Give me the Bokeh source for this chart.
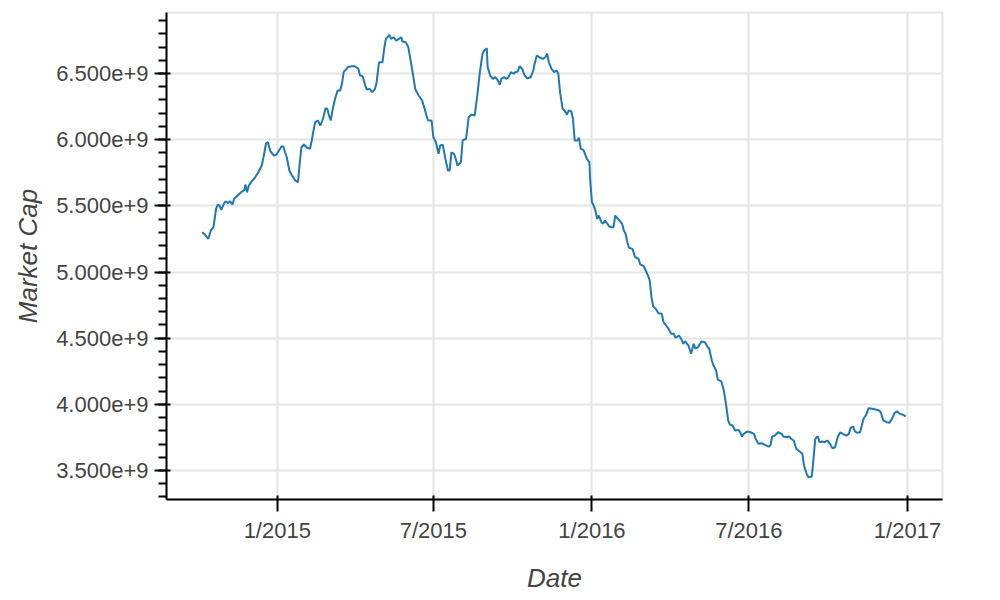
import pandas as pd
from bokeh.plotting import figure
from bokeh.models import Range1d, DatetimeTickFormatter, ColumnDataSource
from bokeh.embed import file_html
from bokeh.resources import INLINE

# ---- data ----
base_date = "2015-01-01"
# days after 2015-01-01
day_offsets = [
    -87, -84, -80, -77, -74, -71, -69, -67, -65, -62, -60, -57, -55, -52, -50, -46, -42, -38, -37, -35,
    -33, -29, -26, -22, -18, -16, -13, -11, -8, -4, -1, 2, 5, 7, 9, 11, 14, 17, 21, 24, 26, 28, 31, 34, 38, 40, 42,
    44, 47, 50, 53, 56, 58, 60, 62, 64, 67, 70, 73, 75, 77, 82, 86, 90, 94, 96, 99,
    102, 104, 107, 110, 113, 115, 118, 120, 122, 124, 126, 130, 132, 135, 138, 141, 144, 145, 149, 152,
    154, 157, 160, 164, 168, 171, 173, 175, 179, 181,
    184, 187, 189, 192, 195, 198, 200, 202, 205, 207, 209, 213, 215, 219, 222, 225, 229, 232, 235, 238,
    240, 243, 244, 247, 250, 253, 256, 258, 260, 263, 266, 268, 271, 274, 276, 279, 281, 284, 287, 290,
    294, 297, 298, 301, 304, 308, 311, 313, 315, 318, 321, 324, 326, 328,
    331, 333, 336, 338, 341, 343, 345, 348, 350, 352, 355, 357, 359, 362, 363, 365, 367, 369, 371, 373,
    376, 378, 380, 383, 385, 388, 390, 392, 395, 397, 400, 402, 404, 406, 408, 412, 415, 419, 421, 425,
    427, 430, 432, 434, 436, 439, 442, 446, 448, 451, 453, 457, 460, 462,
    466, 469, 471, 473, 477, 480, 483, 485, 488, 492, 496, 499, 501, 504, 506, 509, 511, 515, 518, 521,
    523, 525, 528, 531, 535, 537, 539, 541, 545, 549, 553, 555, 558, 562, 565, 570, 572, 574, 577, 581,
    585, 587, 591, 594, 596, 599, 602, 607,
    609, 611, 614, 616, 620, 622, 624, 627, 629, 632, 635, 638, 641, 644, 647, 650, 653, 656, 660, 663,
    665, 668, 670, 673, 676, 678, 680, 683, 686, 690, 694, 698, 700, 703, 707, 710, 713, 716, 719, 722,
    726, 729,
]
# market cap, billions
market_cap_bn = [
    5.301, 5.283, 5.251, 5.314, 5.339, 5.478, 5.510, 5.502, 5.470, 5.515, 5.535, 5.520, 5.535, 5.510, 5.553,
    5.578, 5.603, 5.621, 5.661, 5.603, 5.654, 5.691, 5.712, 5.754, 5.805, 5.867, 5.973, 5.981, 5.913, 5.880,
    5.888, 5.918, 5.948, 5.948, 5.905, 5.867, 5.767, 5.729, 5.691, 5.679, 5.818, 5.943, 5.963, 5.943, 5.931,
    5.994, 6.069,
    6.132, 6.145, 6.107, 6.158, 6.238, 6.233, 6.183, 6.145, 6.220, 6.309, 6.372, 6.372, 6.422, 6.510, 6.548,
    6.555, 6.555, 6.536, 6.485, 6.480, 6.409, 6.379, 6.384, 6.359, 6.379, 6.422, 6.585, 6.585, 6.585, 6.687,
    6.762, 6.792, 6.762, 6.774, 6.749, 6.762, 6.774, 6.742, 6.737, 6.699, 6.623, 6.510, 6.384, 6.334, 6.296,
    6.233, 6.183, 6.145, 6.145, 6.019,
    5.981, 5.893, 5.956, 5.961, 5.855, 5.767, 5.767, 5.905, 5.893, 5.855, 5.805, 5.830, 5.994, 6.007, 6.170,
    6.188, 6.183, 6.334, 6.510, 6.649, 6.674, 6.691, 6.548, 6.485, 6.460, 6.472, 6.447, 6.415, 6.460, 6.472,
    6.460, 6.472, 6.510, 6.498, 6.510, 6.515, 6.555, 6.536, 6.485, 6.464, 6.472, 6.523, 6.560, 6.636, 6.623,
    6.611, 6.623, 6.649, 6.585, 6.536, 6.510, 6.523, 6.498, 6.359,
    6.233, 6.220, 6.190, 6.220, 6.215, 6.158, 5.994, 5.994, 6.014, 5.931, 5.923, 5.893, 5.855, 5.830, 5.691,
    5.527, 5.502, 5.465, 5.402, 5.427, 5.376, 5.364, 5.389, 5.364, 5.344, 5.339, 5.339, 5.427, 5.402, 5.389,
    5.364, 5.314, 5.289, 5.225, 5.183, 5.175, 5.112, 5.100, 5.057, 5.044, 5.017, 4.973, 4.936, 4.810, 4.739,
    4.722, 4.689, 4.684, 4.621, 4.596, 4.578, 4.533, 4.533, 4.503,
    4.520, 4.488, 4.457, 4.477, 4.444, 4.382, 4.457, 4.420, 4.432, 4.475, 4.470, 4.437, 4.420, 4.331, 4.293,
    4.256, 4.185, 4.175, 4.104, 3.978, 3.878, 3.847, 3.840, 3.802, 3.807, 3.789, 3.757, 3.777, 3.795, 3.789,
    3.777, 3.739, 3.702, 3.706, 3.696, 3.681, 3.689, 3.757, 3.764, 3.789, 3.777, 3.757, 3.752, 3.757, 3.739,
    3.727, 3.664, 3.638,
    3.626, 3.538, 3.475, 3.449, 3.455, 3.588, 3.739, 3.759, 3.714, 3.719, 3.714, 3.727, 3.702, 3.668, 3.676,
    3.752, 3.789, 3.777, 3.764, 3.777, 3.823, 3.832, 3.795, 3.785, 3.789, 3.840, 3.891, 3.921, 3.971, 3.966,
    3.961, 3.953, 3.940, 3.878, 3.865, 3.860, 3.891, 3.936, 3.946, 3.928, 3.921, 3.910,
]

x_start_offset_days = -128.5
x_end_offset_days = 771.6
y_start = 3.281e9
y_end = 6.961e9

# ---- build ----
start = pd.Timestamp(base_date)
dates = start + pd.to_timedelta(day_offsets, unit="D")
cap = [v * 1e9 for v in market_cap_bn]
source = ColumnDataSource(dict(date=dates, cap=cap))

FONT = "Liberation Sans"

p = figure(
    x_axis_type="datetime",
    frame_width=776, frame_height=487,
    min_border_left=166, min_border_right=8, min_border_top=12, min_border_bottom=86,
    x_range=Range1d(start + pd.Timedelta(days=x_start_offset_days), start + pd.Timedelta(days=x_end_offset_days)),
    y_range=Range1d(y_start, y_end),
    output_backend="svg", toolbar_location=None,
)

p.line("date", "cap", source=source, line_width=2, line_color="#1f77b4")

p.xaxis.axis_label = "Date"
p.yaxis.axis_label = "Market Cap"
p.xaxis.formatter = DatetimeTickFormatter(months="%-m/%Y", years="%Y")

for ax in p.axis:
    ax.axis_label_text_font = FONT
    ax.axis_label_text_font_size = "26px"
    ax.axis_label_text_font_style = "italic"
    ax.axis_label_text_color = "#444444"
    ax.major_label_text_font = FONT
    ax.major_label_text_font_size = "22px"
    ax.major_label_text_color = "#444444"
    ax.axis_line_width = 2
    ax.major_tick_line_width = 2
    ax.minor_tick_line_width = 2
    ax.major_tick_out = 12
    ax.major_tick_in = 4
    ax.minor_tick_out = 8
    ax.minor_tick_in = 0
    ax.major_label_standoff = 6
    ax.axis_label_standoff = 10

p.xaxis.axis_label_standoff = 17
p.xaxis.minor_tick_line_color = None

p.grid.grid_line_color = "#e5e5e5"
p.grid.grid_line_width = 2
p.outline_line_color = "#e5e5e5"
p.outline_line_width = 2

open("out.html", "w").write(file_html(p, INLINE))
